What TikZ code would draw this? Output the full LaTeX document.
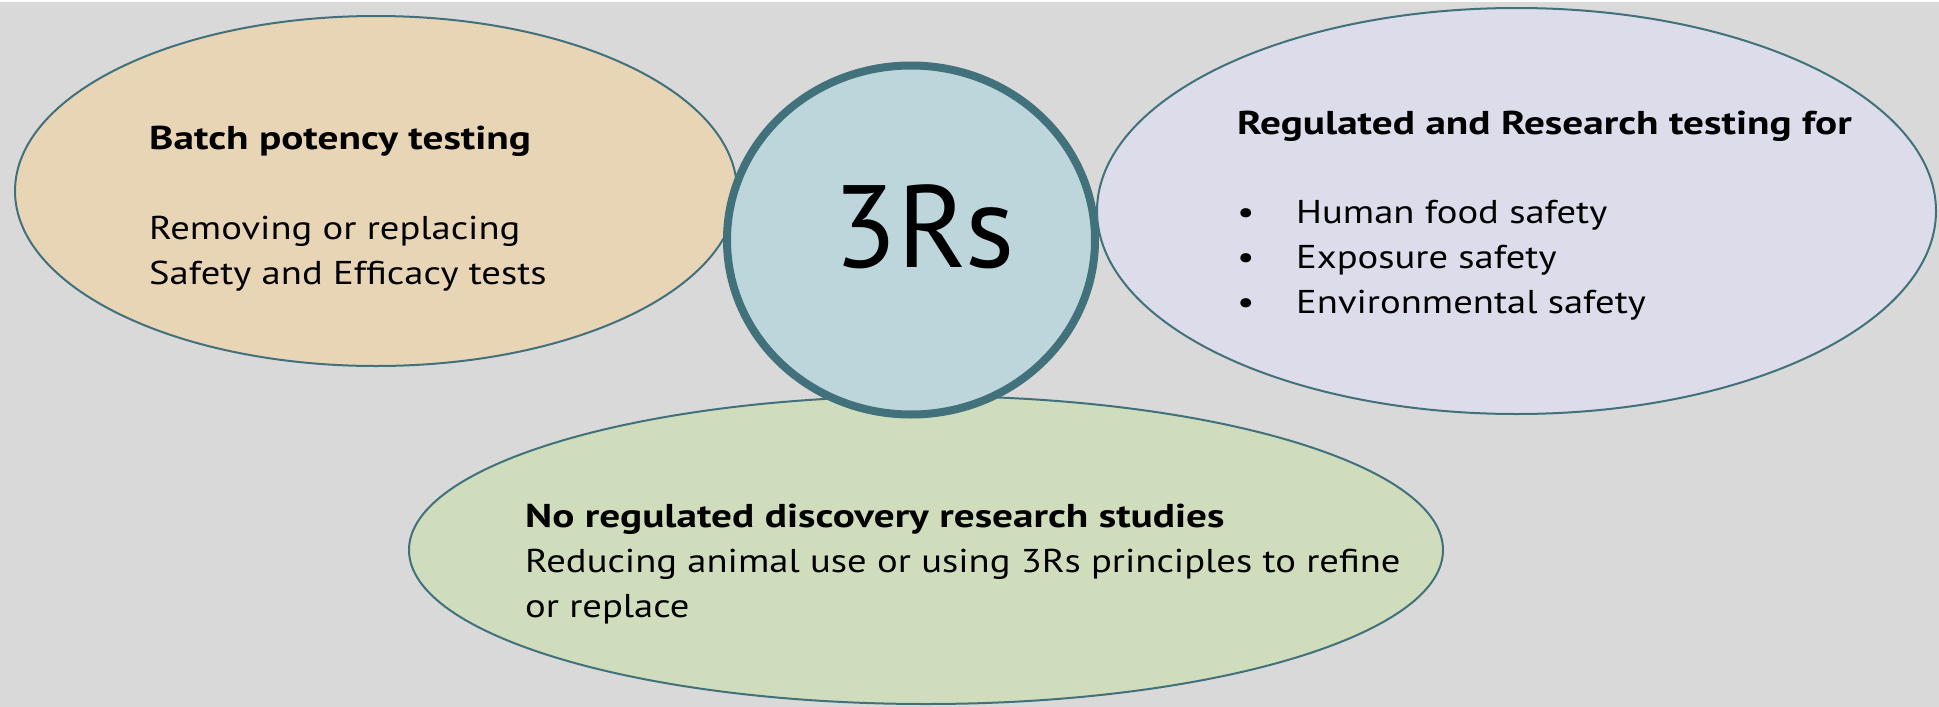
\documentclass[tikz,border=0pt]{standalone}
\usepackage{fontspec}
\setmainfont{PT Sans}[FakeStretch=1.17, BoldFeatures={FakeStretch=1.25}]
\newfontfamily\hubfont{PT Sans}
\usetikzlibrary{shapes.geometric}
\definecolor{bgGray}{HTML}{D9D9D9}
\definecolor{rimTeal}{HTML}{41717B}
\definecolor{fillSand}{HTML}{E8D5B6}
\definecolor{fillLilac}{HTML}{DCDCEA}
\definecolor{fillSage}{HTML}{CFDDBC}
\definecolor{fillIce}{HTML}{BDD6DC}
\tikzset{
  blob/.style={ellipse, draw=rimTeal, line width=2pt, inner sep=0pt},
  hub/.style={ellipse, draw=rimTeal, fill=fillIce, line width=8pt, inner sep=0pt},
  bodytxt/.style={anchor=base west, inner sep=0pt, font=\fontsize{33}{45}\selectfont},
  headtxt/.style={bodytxt, font=\fontsize{33}{45}\selectfont\bfseries},
}
\begin{document}
\begin{tikzpicture}[x=1pt,y=-1pt]
  % canvas
  \fill[bgGray] (0,0) rectangle (1939,707);
  \fill[white] (0,0) rectangle (1939,2);
  \useasboundingbox (0,0) rectangle (1939,707);

  % satellite ellipses
  \node[blob, fill=fillSage, minimum width=1034pt, minimum height=308pt] (research) at (926,550) {};
  \node[blob, fill=fillSand, minimum width=722pt, minimum height=350pt] (batch) at (376,191) {};
  \node[blob, fill=fillLilac, minimum width=839pt, minimum height=406pt] (regulated) at (1516.5,211) {};

  % central hub
  \node[hub, minimum width=368pt, minimum height=349pt] (hub) at (911,240) {};
  \node[anchor=base, inner sep=0pt, font=\hubfont\fontsize{117}{120}\selectfont] (hubtxt) at (924,267) {3Rs};

  % batch potency text
  \node[headtxt] (b1) at (149,149) {Batch potency testing};
  \node[bodytxt] (b2) at (149,239) {Removing or replacing};
  \node[bodytxt] (b3) at (149,284) {Safety and Efficacy tests};

  % regulated testing text
  \node[headtxt] (r0) at (1237,134) {Regulated and Research testing for};
  \node[bodytxt] (r1d) at (1237,223) {•};
  \node[bodytxt] (r1) at (1296,223) {Human food safety};
  \node[bodytxt] (r2d) at (1237,268) {•};
  \node[bodytxt] (r2) at (1296,268) {Exposure safety};
  \node[bodytxt] (r3d) at (1237,313) {•};
  \node[bodytxt] (r3) at (1296,313) {Environmental safety};

  % discovery research text
  \node[headtxt] (d1) at (525,527) {No regulated discovery research studies};
  \node[bodytxt] (d2) at (525,572) {Reducing animal use or using 3Rs principles to refine};
  \node[bodytxt] (d3) at (525,617) {or replace};
\end{tikzpicture}
\end{document}
